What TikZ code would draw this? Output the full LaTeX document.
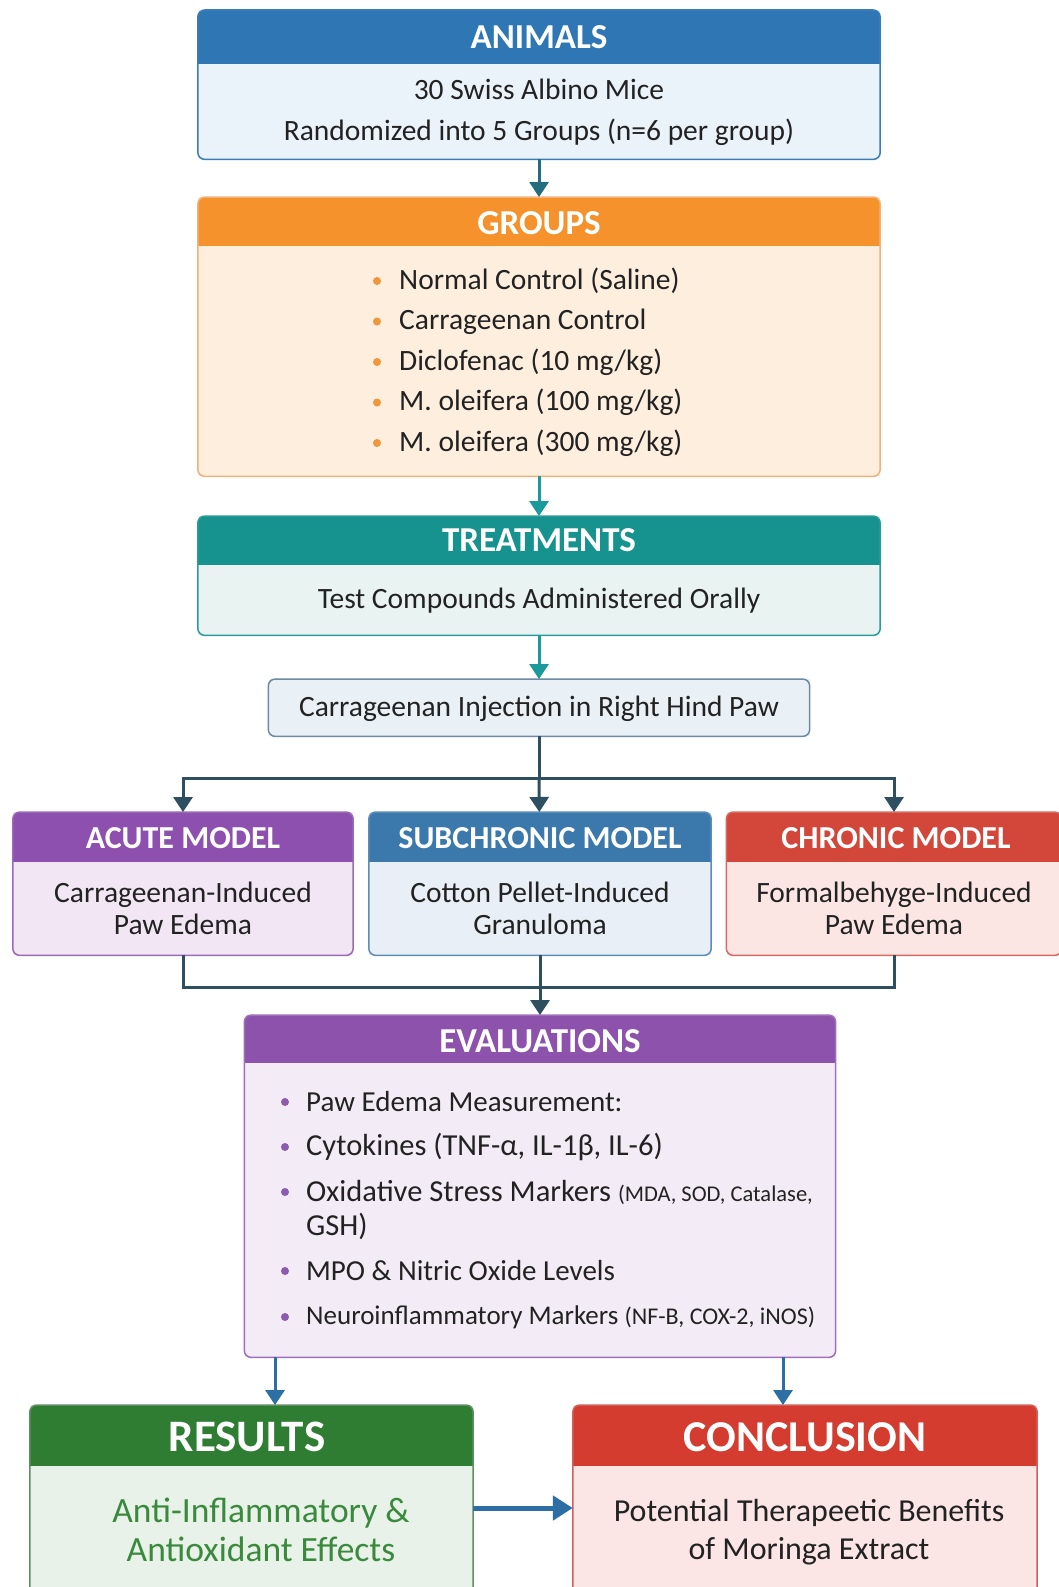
\documentclass[tikz,border=0pt]{standalone}
\usepackage{fontspec}
\setmainfont{Carlito}
\usetikzlibrary{arrows.meta,calc}

\definecolor{animHdr}{HTML}{2F77B4}\definecolor{animBody}{HTML}{EAF2FA}\definecolor{animBrd}{HTML}{3C7DB6}
\definecolor{grpHdr}{HTML}{F5922B}\definecolor{grpBody}{HTML}{FDEEDD}\definecolor{grpBrd}{HTML}{F2B27B}
\definecolor{trtHdr}{HTML}{17938F}\definecolor{trtBody}{HTML}{E8F3F2}\definecolor{trtBrd}{HTML}{2A9C98}
\definecolor{injBody}{HTML}{E9F1F6}\definecolor{injBrd}{HTML}{6B8BA4}
\definecolor{acuHdr}{HTML}{8D50AE}\definecolor{acuBody}{HTML}{F2E6F4}\definecolor{acuBrd}{HTML}{9A6AB7}
\definecolor{subHdr}{HTML}{3B78AC}\definecolor{subBody}{HTML}{E8EFF6}\definecolor{subBrd}{HTML}{5C8CB8}
\definecolor{chrHdr}{HTML}{D3473B}\definecolor{chrBody}{HTML}{FCE6E4}\definecolor{chrBrd}{HTML}{D46A60}
\definecolor{evalHdr}{HTML}{8C52AC}\definecolor{evalBody}{HTML}{F3EBF6}\definecolor{evalBrd}{HTML}{9E70BC}
\definecolor{resHdr}{HTML}{2F7D33}\definecolor{resBody}{HTML}{E9F2E8}\definecolor{resBrd}{HTML}{5E8F62}\definecolor{resTxt}{HTML}{3A8A3E}
\definecolor{conHdr}{HTML}{D33C2F}\definecolor{conBody}{HTML}{FBE6E5}\definecolor{conBrd}{HTML}{D0605A}
\definecolor{arrDark}{HTML}{226E7E}\definecolor{arrTeal}{HTML}{1A9A9B}\definecolor{lineDark}{HTML}{2D4F60}
\definecolor{arrBlue}{HTML}{2D6FA5}\definecolor{bulOr}{HTML}{F0963C}\definecolor{bulPu}{HTML}{8C5AAE}
\definecolor{txt}{HTML}{222222}

\tikzset{
  card/.style={rectangle, inner sep=0pt},
  hdrtxt/.style={text=white, font=\bfseries\fontsize{35}{38}\selectfont, inner sep=0pt},
  mhdrtxt/.style={text=white, font=\bfseries\fontsize{32}{36}\selectfont, inner sep=0pt},
  bodytxt/.style={text=txt, font=\fontsize{29.5}{41}\selectfont, align=center, inner sep=0pt},
  mbodytxt/.style={text=txt, font=\fontsize{29.5}{32}\selectfont, align=center, inner sep=0pt},
  itemtxt/.style={text=txt, font=\fontsize{29.5}{32}\selectfont, anchor=west, inner sep=0pt},
  evaltxt/.style={text=txt, font=\fontsize{29}{32}\selectfont, anchor=west, inner sep=0pt},
  bul/.style={circle, inner sep=0pt, minimum size=8pt},
  conn/.style={line width=3pt},
  tip/.style={-{Triangle[width=19pt,length=15pt]}},
  bigtip/.style={-{Triangle[width=24pt,length=20pt]}},
}

\newcommand{\mkcard}[9]{%
  \node[card, fill=#8, minimum width=#4pt, minimum height=#5pt, anchor=north] (#1) at (#2,#3) {};
  \begin{scope}
    \clip[rounded corners=7pt] (#1.south west) rectangle (#1.north east);
    \fill[#7] (#1.north west) rectangle ([yshift=-#6pt]#1.north east);
  \end{scope}
  \draw[rounded corners=7pt, line width=1.5pt, draw=#9] (#1.south west) rectangle (#1.north east);
}

\begin{document}
\begin{tikzpicture}[x=1pt,y=-1pt]
\fill[white] (0,0) rectangle (1059,1587);
\useasboundingbox (0,0) rectangle (1059,1587);

% ANIMALS
\mkcard{animals}{539}{10}{682}{149}{54}{animHdr}{animBody}{animBrd}
\node[hdrtxt] (animalsH) at (539,37) {ANIMALS};
\node[bodytxt] (animalsB) at (539,112) {30 Swiss Albino Mice\\Randomized into 5 Groups (n=6 per group)};

% GROUPS
\mkcard{groups}{539}{197}{682}{279}{49}{grpHdr}{grpBody}{grpBrd}
\node[hdrtxt] (groupsH) at (539,223) {GROUPS};
\foreach \t [count=\i] in {Normal Control (Saline),Carrageenan Control,Diclofenac (10 mg/kg),M. oleifera (100 mg/kg),M. oleifera (300 mg/kg)}{
  \node[bul, fill=bulOr] (gb\i) at (377,{281+40.5*(\i-1)}) {};
  \node[itemtxt] (gi\i) at (399,{281+40.5*(\i-1)}) {\t};
}

% TREATMENTS
\mkcard{treat}{539}{516}{682}{119}{49}{trtHdr}{trtBody}{trtBrd}
\node[hdrtxt] (treatH) at (539,540) {TREATMENTS};
\node[bodytxt] (treatB) at (539,601) {Test Compounds Administered Orally};

% INJECTION
\node[card, fill=injBody, minimum width=541pt, minimum height=57pt, anchor=north] (inj) at (539,679) {};
\draw[rounded corners=7pt, line width=1.5pt, draw=injBrd] (inj.south west) rectangle (inj.north east);
\node[bodytxt] (injT) at (539,709) {Carrageenan Injection in Right Hind Paw};

% MODELS
\mkcard{acute}{183}{812}{340}{143}{50}{acuHdr}{acuBody}{acuBrd}
\node[mhdrtxt] (acuteH) at (183,838) {ACUTE MODEL};
\node[mbodytxt] (acuteB) at (183,908) {Carrageenan-Induced\\Paw Edema};

\mkcard{sub}{540}{812}{342}{143}{50}{subHdr}{subBody}{subBrd}
\node[mhdrtxt] (subH) at (540,838) {SUBCHRONIC MODEL};
\node[mbodytxt] (subB) at (540,908) {Cotton Pellet-Induced\\Granuloma};

\mkcard{chron}{894}{812}{335}{143}{50}{chrHdr}{chrBody}{chrBrd}
\node[mhdrtxt] (chronH) at (896,838) {CHRONIC MODEL};
\node[mbodytxt] (chronB) at (894,908) {Formalbehyge-Induced\\Paw Edema};

% EVALUATIONS
\mkcard{eval}{540}{1015}{591}{342}{48}{evalHdr}{evalBody}{evalBrd}
\node[hdrtxt] (evalH) at (540,1041) {EVALUATIONS};
\node[bul, fill=bulPu] (eb1) at (285,1102) {};
\node[evaltxt] (ei1) at (306,1102) {Paw Edema Measurement:};
\node[bul, fill=bulPu] (eb2) at (285,1147) {};
\node[evaltxt, font=\fontsize{30.5}{32}\selectfont] (ei2) at (306,1147) {Cytokines (TNF-α, IL-1β, IL-6)};
\node[bul, fill=bulPu] (eb3) at (285,1192) {};
\node[evaltxt, font=\fontsize{30.5}{32}\selectfont] (ei3) at (306,1192) {Oxidative Stress Markers {\fontsize{22.5}{26}\selectfont(MDA, SOD, Catalase,}};
\node[evaltxt, font=\fontsize{30.5}{32}\selectfont] (ei3b) at (306,1226) {GSH)};
\node[bul, fill=bulPu] (eb4) at (285,1271) {};
\node[evaltxt] (ei4) at (306,1271) {MPO \& Nitric Oxide Levels};
\node[bul, fill=bulPu] (eb5) at (285,1317) {};
\node[evaltxt, font=\fontsize{27}{32}\selectfont] (ei5) at (306,1317) {Neuroinflammatory Markers {\fontsize{24}{28}\selectfont(NF-B, COX-2, iNOS)}};

% RESULTS / CONCLUSION
\mkcard{res}{251.5}{1405}{443}{200}{61}{resHdr}{resBody}{resBrd}
\node[hdrtxt, font=\bfseries\fontsize{45}{48}\selectfont] (resH) at (247,1437) {RESULTS};
\node[bodytxt, text=resTxt, font=\fontsize{35.5}{39}\selectfont] (resB) at (261,1530) {Anti-Inflammatory \&\\Antioxidant Effects};

\mkcard{con}{805}{1405}{464}{200}{61}{conHdr}{conBody}{conBrd}
\node[hdrtxt, font=\bfseries\fontsize{44}{48}\selectfont] (conH) at (805,1437) {CONCLUSION};
\node[bodytxt, font=\fontsize{32}{38}\selectfont] (conB) at (809,1532) {Potential Therapeetic Benefits\\of Moringa Extract};

% CONNECTORS
\draw[conn, tip, draw=arrDark] (animals) -- (groups);
\draw[conn, tip, draw=arrTeal] (groups) -- (treat);
\draw[conn, tip, draw=arrTeal] (treat) -- (inj);
\coordinate (split) at (539,778);
\draw[conn, draw=lineDark] (inj) -- (split);
\draw[conn, tip, draw=lineDark] (split) -| (acute);
\draw[conn, tip, draw=lineDark] (split) -| (chron);
\draw[conn, tip, draw=lineDark] (split) -- (sub);
\coordinate (join) at (540,987);
\draw[conn, draw=lineDark] (acute) |- (join);
\draw[conn, draw=lineDark] (chron) |- (join);
\draw[conn, tip, draw=lineDark] (sub) -- (eval);
\draw[conn, tip, draw=arrBlue] (eval.south -| 275,0) -- (res.north -| 275,0);
\draw[conn, tip, draw=arrBlue] (eval.south -| 783,0) -- (con.north -| 783,0);
\draw[line width=5pt, bigtip, draw=arrBlue] (res.east |- 0,1508) -- (con.west |- 0,1508);
\end{tikzpicture}
\end{document}
